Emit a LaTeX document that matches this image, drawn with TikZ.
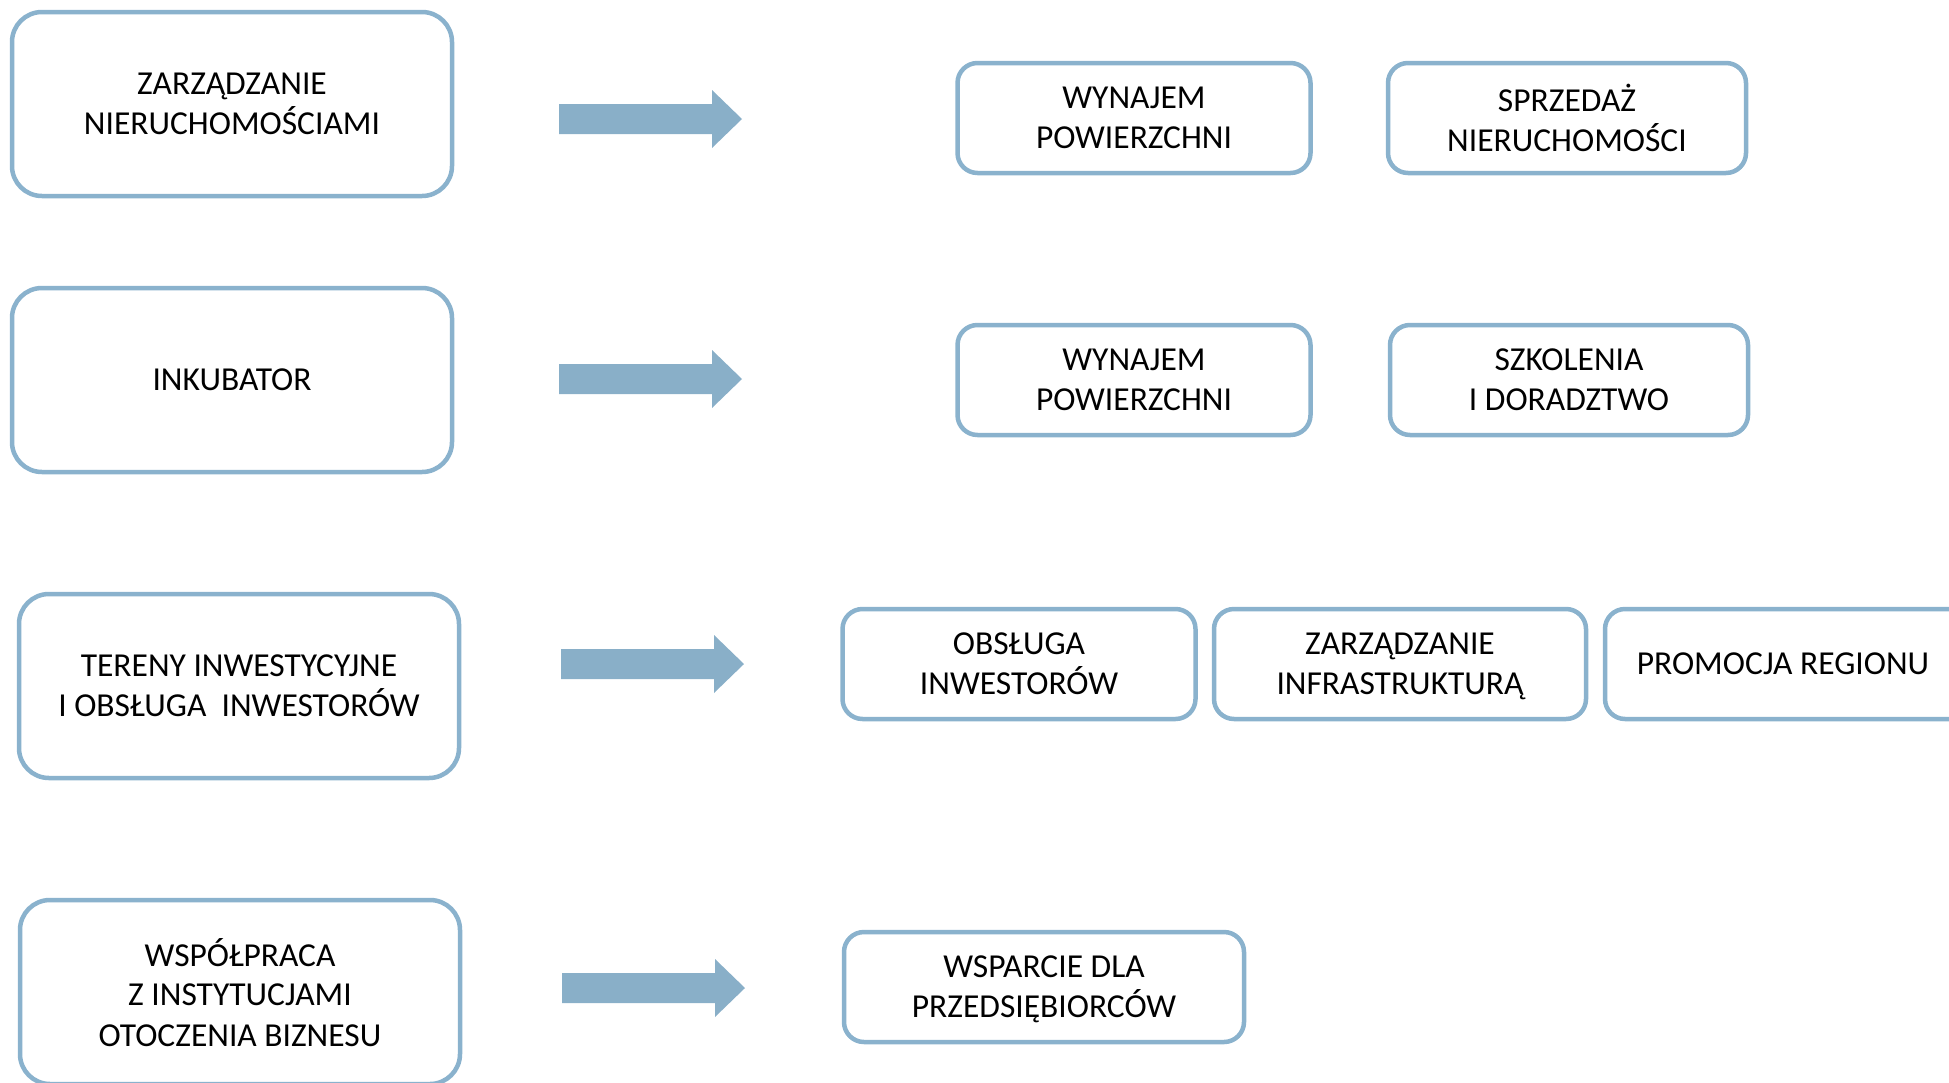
\documentclass[tikz,border=0pt]{standalone}
\usepackage{fontspec}
\setmainfont{Carlito}
\usetikzlibrary{positioning}

\definecolor{boxblue}{RGB}{138,178,205}
\definecolor{arrowblue}{RGB}{137,175,200}

\tikzset{
  mainbox/.style={draw=boxblue, line width=4.5pt, rounded corners=30pt, fill=white,
    minimum width=440pt, minimum height=184pt, align=center, text depth=-1pt,
    font=\fontsize{33.5}{40}\selectfont},
  subbox/.style={draw=boxblue, line width=4.5pt, rounded corners=20pt, fill=white,
    minimum height=110pt, align=center, inner sep=0pt, text depth=-1pt,
    font=\fontsize{33.5}{40}\selectfont},
  blockarrow/.style={fill=arrowblue}
}

\begin{document}
\begin{tikzpicture}[x=1pt,y=-1pt]
  \useasboundingbox (0,0) rectangle (1949,1082);
  % main activities
  \node[mainbox] (zarz) at (232,104) {ZARZĄDZANIE\\NIERUCHOMOŚCIAMI};
  \node[mainbox] (inkub) at (232,380) {INKUBATOR};
  \node[mainbox] (teren) at (239,686) {TERENY INWESTYCYJNE\\I OBSŁUGA\ \ INWESTORÓW};
  \node[mainbox] (wspol) at (240,992) {WSPÓŁPRACA\\Z INSTYTUCJAMI\\OTOCZENIA BIZNESU};
  % arrows
  \coordinate (ar1) at (559,119);
  \fill[blockarrow] (ar1) ++(0,-15) -- ++(153,0) -- ++(0,-14) -- ++(30,29) -- ++(-30,29) -- ++(0,-14) -- ++(-153,0) -- cycle;
  \coordinate (ar2) at (559,379);
  \fill[blockarrow] (ar2) ++(0,-15) -- ++(153,0) -- ++(0,-14) -- ++(30,29) -- ++(-30,29) -- ++(0,-14) -- ++(-153,0) -- cycle;
  \coordinate (ar3) at (561,664);
  \fill[blockarrow] (ar3) ++(0,-15) -- ++(153,0) -- ++(0,-14) -- ++(30,29) -- ++(-30,29) -- ++(0,-14) -- ++(-153,0) -- cycle;
  \coordinate (ar4) at (562,988);
  \fill[blockarrow] (ar4) ++(0,-15) -- ++(153,0) -- ++(0,-14) -- ++(30,29) -- ++(-30,29) -- ++(0,-14) -- ++(-153,0) -- cycle;
  % services
  \node[subbox, minimum width=353pt] (wyn1) at (1134,118) {WYNAJEM\\POWIERZCHNI};
  \node[subbox, minimum width=358pt] (sprz) at (1567,118) {SPRZEDAŻ\\NIERUCHOMOŚCI};
  \node[subbox, minimum width=353pt] (wyn2) at (1134,380) {WYNAJEM\\POWIERZCHNI};
  \node[subbox, minimum width=358pt] (szkol) at (1569,380) {SZKOLENIA\\I DORADZTWO};
  \node[subbox, minimum width=353pt] (obsl) at (1019,664) {OBSŁUGA\\INWESTORÓW};
  \node[subbox, minimum width=372pt] (infra) at (1400,664) {ZARZĄDZANIE\\INFRASTRUKTURĄ};
  \node[subbox, minimum width=372pt] (promo) at (1791,664) {PROMOCJA REGIONU\hspace*{16pt}};
  \node[subbox, minimum width=400pt] (wsparc) at (1044,987) {WSPARCIE DLA\\PRZEDSIĘBIORCÓW};
\end{tikzpicture}
\end{document}
